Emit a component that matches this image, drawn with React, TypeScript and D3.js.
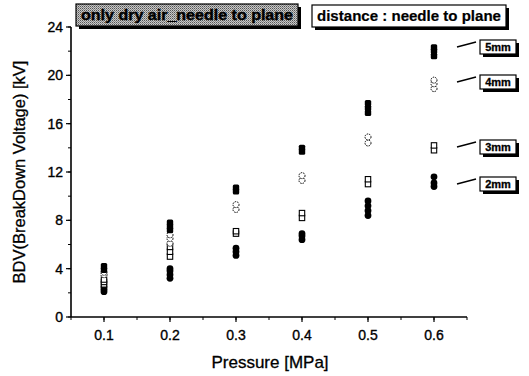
import React from "react";
import * as d3 from "d3";

const pressures = [0.1, 0.2, 0.3, 0.4, 0.5, 0.6];
// repeated measurements per pressure (kV)
const s2mm = [[2.1, 2.3, 2.5], [3.2, 3.5, 3.8, 4.0], [5.1, 5.4, 5.7], [6.4, 6.7, 6.9], [8.4, 8.8, 9.2, 9.6], [10.8, 11.1, 11.6]];
const s3mm = [[2.7, 2.9, 3.1], [5.0, 5.4, 5.8], [6.9, 7.1], [8.2, 8.6], [11.0, 11.4], [13.8, 14.2]];
const s4mm = [[3.5, 3.7], [6.1, 6.5, 6.8], [8.9, 9.3], [11.3, 11.7], [14.4, 14.9], [18.9, 19.3, 19.6]];
const s5mm = [[3.9, 4.2], [7.2, 7.5, 7.8], [10.4, 10.7], [13.7, 14.0], [16.9, 17.3, 17.7], [21.6, 22.0, 22.3]];
const seriesNames = ["2mm", "3mm", "4mm", "5mm"];
const xTicks = [0.1, 0.2, 0.3, 0.4, 0.5, 0.6];
const yTicks = [0, 4, 8, 12, 16, 20, 24];

const W = 529, H = 376;
const x = d3.scaleLinear().domain([0.05, 0.65]).range([71, 467]);
const y = d3.scaleLinear().domain([0, 24]).range([317, 27]);

const font = "Arial, 'Liberation Sans', sans-serif";

function Marker({ kind, cx, cy }: { kind: string; cx: number; cy: number }) {
  if (kind === "2mm") return <circle cx={cx} cy={cy} r={3.4} fill="#000" />;
  if (kind === "5mm") return <rect x={cx - 3.2} y={cy - 3.2} width={6.4} height={6.4} rx={1.5} fill="#000" />;
  if (kind === "3mm") return <rect x={cx - 2.7} y={cy - 2.7} width={5.4} height={5.4} fill="#fff" stroke="#000" strokeWidth={1.1} />;
  return <circle cx={cx} cy={cy} r={3} fill="#fff" stroke="#000" strokeWidth={1} strokeDasharray="1.5,1" />;
}

function LabelBox({ x0, y0, w, h, text, fs, fill, sw, tl }: any) {
  return (
    <g>
      <rect x={x0 + 3} y={y0 + 3} width={w} height={h} fill="#000" />
      <rect x={x0} y={y0} width={w} height={h} fill={fill} stroke="#000" strokeWidth={1.2} />
      <text x={x0 + w / 2} y={y0 + h / 2 + fs * 0.36} textAnchor="middle" fontSize={fs} fontWeight="bold" fontFamily={font} stroke="#000" strokeWidth={sw || 0.2}
        {...(tl ? { textLength: tl, lengthAdjust: "spacingAndGlyphs" } : {})}>{text}</text>
    </g>
  );
}

export default function App() {
  const all = [s2mm, s3mm, s4mm, s5mm];
  const xMinor = d3.range(0.05, 0.651, 0.05);
  const yMinor = d3.range(0, 24.01, 2);
  const tags = [
    { name: "5mm", by: 40 },
    { name: "4mm", by: 75 },
    { name: "3mm", by: 140 },
    { name: "2mm", by: 177 },
  ];
  return (
    <svg width={W} height={H} style={{ position: "absolute", left: 0, top: 0, background: "#fff" }}>
      <defs>
        <pattern id="dith" width="2" height="2" patternUnits="userSpaceOnUse">
          <rect width="2" height="2" fill="#c8c8c8" />
          <rect width="1" height="1" fill="#555" />
          <rect x="1" y="1" width="1" height="1" fill="#888" />
        </pattern>
      </defs>
      {/* axes */}
      <line x1={x(0.05)} x2={x(0.65)} y1={y(0)} y2={y(0)} stroke="#000" strokeWidth={1.6} />
      <line x1={x(0.05)} x2={x(0.05)} y1={y(0)} y2={y(24)} stroke="#000" strokeWidth={1.6} />
      {xMinor.map((t, i) => (
        <line key={"xm" + i} x1={x(t)} x2={x(t)} y1={y(0)} y2={y(0) + 3} stroke="#000" strokeWidth={1} />
      ))}
      {xTicks.map((t) => (
        <g key={"xt" + t}>
          <line x1={x(t)} x2={x(t)} y1={y(0)} y2={y(0) + 5} stroke="#000" strokeWidth={1.2} />
          <text x={x(t)} y={y(0) + 23} textAnchor="middle" fontSize={14} fontFamily={font} stroke="#000" strokeWidth={0.35}>{t.toFixed(1)}</text>
        </g>
      ))}
      {yMinor.map((t, i) => (
        <line key={"ym" + i} x1={x(0.05) - 3} x2={x(0.05)} y1={y(t)} y2={y(t)} stroke="#000" strokeWidth={1} />
      ))}
      {yTicks.map((t) => (
        <g key={"yt" + t}>
          <line x1={x(0.05) - 5} x2={x(0.05)} y1={y(t)} y2={y(t)} stroke="#000" strokeWidth={1.2} />
          <text x={x(0.05) - 8} y={y(t) + 5} textAnchor="end" fontSize={14} fontFamily={font} stroke="#000" strokeWidth={0.35}>{t}</text>
        </g>
      ))}
      <text x={270} y={368} textAnchor="middle" fontSize={17} fontFamily={font} stroke="#000" strokeWidth={0.3}>Pressure [MPa]</text>
      <text transform={`translate(25,${172}) rotate(-90)`} textAnchor="middle" fontSize={16.5} fontFamily={font} stroke="#000" strokeWidth={0.3}>BDV(BreakDown Voltage) [kV]</text>
      {/* data */}
      {all.map((ser, si) =>
        ser.map((vals, pi) =>
          vals.map((v, k) => (
            <Marker key={`${si}-${pi}-${k}`} kind={seriesNames[si]} cx={x(pressures[pi])} cy={y(v)} />
          ))
        )
      )}
      {/* top labels */}
      <LabelBox x0={76} y0={4} w={222} h={22} text="only dry air_needle to plane" fs={14} fill="url(#dith)" sw={0.4} tl={212} />
      <LabelBox x0={312} y0={5} w={194} h={22} text="distance : needle to plane" fs={15} fill="#fff" sw={0.2} tl={184} />
      {tags.map((t) => (
        <g key={t.name}>
          <line x1={457} y1={t.by + 7} x2={476} y2={t.by + 2} stroke="#000" strokeWidth={1.4} />
          <LabelBox x0={480} y0={t.by} w={36} h={14} text={t.name} fs={11} fill="#fff" sw={0.3} />
        </g>
      ))}
    </svg>
  );
}
